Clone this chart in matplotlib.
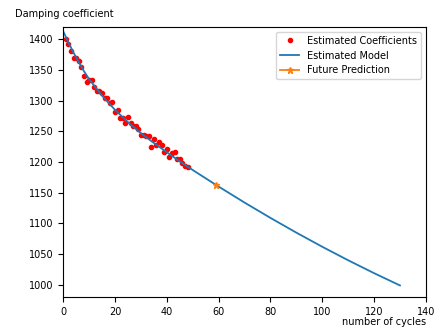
import numpy as np
import matplotlib
matplotlib.use('Agg')
import matplotlib.pyplot as plt

# measured damping coefficients, one per cycle
cycles = list(range(1, 49))
coeffs = [1400, 1393, 1381, 1370, 1370, 1364, 1355, 1340, 1330, 1334,
          1334, 1322, 1316, 1316, 1312, 1305, 1305, 1296, 1298, 1282,
          1285, 1271, 1271, 1264, 1274, 1264, 1259, 1259, 1253, 1244,
          1244, 1242, 1242, 1225, 1237, 1228, 1232, 1228, 1217, 1221,
          1209, 1214, 1216, 1205, 1205, 1199, 1194, 1192]

# fitted model
model_x = [0, 2, 4, 6, 8, 10, 15, 20, 25, 30, 35, 40, 45, 50,
           60, 70, 80, 90, 100, 110, 120, 130]
model_y = [1413, 1395, 1378, 1363, 1348, 1335, 1308, 1285, 1265, 1247,
           1231, 1216, 1201, 1187, 1160, 1134, 1109, 1085, 1062, 1040,
           1019, 999]

pred_x = [59]
pred_y = [1162]

plt.rcParams['font.size'] = 7

fig = plt.figure(figsize=(4.39, 3.29), dpi=100)
ax = fig.add_subplot(111)
fig.subplots_adjust(left=0.144, right=0.970, bottom=0.097, top=0.918)

ax.plot(cycles, coeffs, 'r.', markersize=6, label='Estimated Coefficients')
ax.plot(model_x, model_y, color='C0', lw=1.3, label='Estimated Model')
ax.plot(pred_x, pred_y, marker='*', markersize=5, color='C1', lw=1.3,
        label='Future Prediction')

ax.set_xlim(0, 140)
ax.set_ylim(980, 1420)

ax.set_ylabel('Damping coefficient', rotation=0, ha='left', va='center')
ax.yaxis.set_label_coords(-0.132, 1.048)
ax.set_xlabel('number of cycles', ha='right', va='center')
ax.xaxis.set_label_coords(1.0, -0.093)

ax.legend(loc='upper right')

fig.savefig('out.png', dpi=100)
